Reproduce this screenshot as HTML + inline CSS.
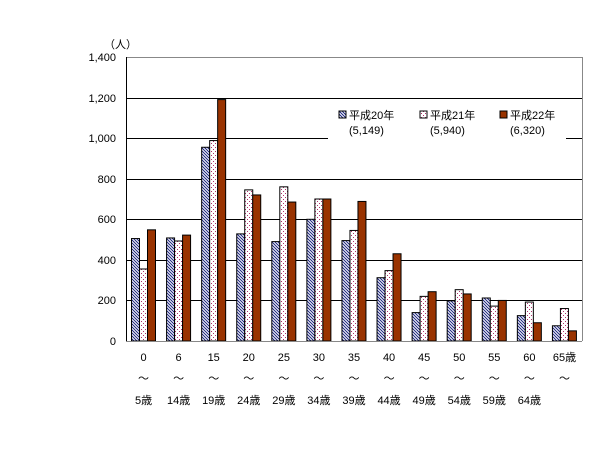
<!DOCTYPE html>
<html><head><meta charset="utf-8"><style>
body{margin:0;background:#fff;}
text{font-family:"Liberation Sans","Noto Sans CJK JP",sans-serif;font-size:11px;fill:#000;}
</style></head><body>
<svg id="chart" width="600" height="450" xmlns="http://www.w3.org/2000/svg">
<defs>
<pattern id="hatch" patternUnits="userSpaceOnUse" width="3" height="3"><rect width="3" height="3" fill="#fff"/><path d="M-1,-1 L4,4 M-1,2 L1,4 M2,-1 L4,1" stroke="#1a237e" stroke-width="1"/></pattern>
<pattern id="dots" patternUnits="userSpaceOnUse" width="4" height="4"><rect width="4" height="4" fill="#fff"/><rect x="1" y="1" width="1" height="1" fill="#b0306a"/><rect x="3" y="3" width="1" height="1" fill="#b0306a"/></pattern>
</defs>
<g id="grid"></g>
<g id="bars"></g>
<g id="axes"></g>
<rect x="328" y="104" width="238" height="40" fill="#fff"/>
<g>
<g><rect x="339" y="111" width="7" height="7" fill="url(#hatch)" stroke="#000"/><text x="349" y="119">平成20年</text><text x="349" y="134">(5,149)</text></g>
<g><rect x="420" y="111" width="7" height="7" fill="url(#dots)" stroke="#000"/><text x="430" y="119">平成21年</text><text x="430" y="134">(5,940)</text></g>
<g><rect x="500" y="111" width="7" height="7" fill="#993300" stroke="#000"/><text x="510" y="119">平成22年</text><text x="510" y="134">(6,320)</text></g>
</g>
<text x="104" y="48">（人）</text>
</svg>
<script>
const categoriesTop=["0","6","15","20","25","30","35","40","45","50","55","60","65歳"];
const categoriesBottom=["5歳","14歳","19歳","24歳","29歳","34歳","39歳","44歳","49歳","54歳","59歳","64歳",""];
const seriesH20=[505,508,955,528,490,600,495,312,140,198,212,125,75];
const seriesH21=[355,493,988,745,760,700,545,347,220,253,172,192,160];
const seriesH22=[548,522,1190,720,685,700,688,430,243,232,200,90,50];
const yTicks=[0,200,400,600,800,1000,1200,1400];
const yTickLabels=["0","200","400","600","800","1,000","1,200","1,400"];
const NS="http://www.w3.org/2000/svg";
const x0=126,x1=582,y0=341,y1=57,yMax=1400;
const y=v=>y0-(v/yMax)*(y0-y1);
const gw=(x1-x0)/categoriesTop.length;
const grid=document.getElementById('grid'),bars=document.getElementById('bars'),axes=document.getElementById('axes');
function mk(tag,attrs,parent){const e=document.createElementNS(NS,tag);for(const k in attrs)e.setAttribute(k,attrs[k]);parent.appendChild(e);return e;}
yTicks.forEach((t,i)=>{
 const gl=mk('line',{x1:x0,x2:x1,y1:Math.round(y(t))+0.5,y2:Math.round(y(t))+0.5,stroke:t===1400?'#888':'#000'},grid);
 
 
 const tl=mk('text',{x:116,y:Math.round(y(t))+4,'text-anchor':'end'},axes);
 tl.textContent=yTickLabels[i];
 
 
});
const series=[[seriesH20,'url(#hatch)'],[seriesH21,'url(#dots)'],[seriesH22,'#993300']];
categoriesTop.forEach((c,i)=>{
 const gx=x0+i*gw+5;
 series.forEach((s,j)=>{
  const v=s[0][i];
  const r=mk('rect',{x:gx+j*8+0.5,y:y(v),width:8,height:y0-y(v),fill:s[1],stroke:'#000','stroke-width':1},bars);
  
  
 });
 const cx=x0+i*gw+gw/2;
 const t1=mk('text',{x:cx,y:361,'text-anchor':'middle'},axes);t1.textContent=c;
 
 
 const t2=mk('text',{x:cx,y:382,'text-anchor':'middle'},axes);t2.textContent='～';
 
 
 const t3=mk('text',{x:cx,y:404,'text-anchor':'middle'},axes);t3.textContent=categoriesBottom[i];
 
 
});
const ya=mk('line',{x1:x0+0.5,x2:x0+0.5,y1:y1,y2:y0,stroke:'#000'},axes);


const rb=mk('line',{x1:x1+0.5,x2:x1+0.5,y1:y1,y2:y0,stroke:'#888'},axes);


const xa=mk('line',{x1:x0,x2:x1,y1:y0+0.5,y2:y0+0.5,stroke:'#888'},axes);


</script>
</body></html>
